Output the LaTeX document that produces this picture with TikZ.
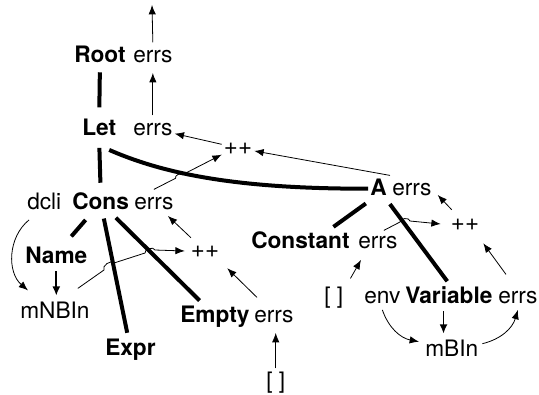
\documentclass[tikz,border=0pt]{standalone}
\usepackage{fontspec}
\setmainfont{TeX Gyre Heros}
\usetikzlibrary{arrows,arrows.meta,calc,positioning}
\tikzset{
        txt/.style = {anchor=base west, inner sep=1.5pt,
            text height=13pt, text depth=3.5pt,
            font=\fontsize{17}{20}\selectfont},
        kind/.style = {txt, font=\fontsize{17}{20}\selectfont\bfseries},
        op/.style = {txt, anchor=center, font=\fontsize{18}{20}\selectfont},
        tree/.style = {draw, line width=3pt},
        flow/.style = {draw, -{Latex[length=7pt,width=5.5pt]}, line width=0.6pt},
        down/.style = {draw, -{Latex[length=7pt,width=6pt]}, line width=1.4pt, shorten <=1pt, shorten >=2pt},
        hop/.style = {bend right=90},
    }

\begin{document}
\begin{tikzpicture}[x=0.75pt,y=0.75pt,yscale=-1,xscale=1]
\useasboundingbox (0,0) rectangle (539,394);

% Text Node
\node[kind] (root) at (72,62) {Root};
\node[txt] (rerrs) at (131,62) {errs};
\node[kind] (let) at (80,135) {Let};
\node[txt] (lerrs) at (131,135) {errs};
\node[op] (pp1) at (238,148) {++};
\node[txt] (dcli) at (25,209) {dcli};
\node[kind] (cons) at (70,209) {Cons};
\node[txt] (cerrs) at (132,209) {errs};
\node[op] (pp2) at (205,251) {++};
\node[kind] (name) at (23,263) {Name};
\node[txt] (mnbin) at (18,318) {mNBIn};
\node[kind] (expr) at (103,355) {Expr};
\node[kind] (empty) at (178,322) {Empty};
\node[txt] (eerrs) at (252,322) {errs};
\node[txt] (nil1) at (264,388) {[ ]};
\node[kind] (a) at (368,195) {A};
\node[txt] (aerrs) at (390,195) {errs};
\node[kind] (const) at (249,248) {Constant};
\node[txt] (conerrs) at (356,248) {errs};
\node[op] (pp3) at (465,224) {++};
\node[txt] (nil2) at (322,303) {[ ]};
\node[txt] (env) at (362,303) {env};
\node[kind] (var) at (403,303) {Variable};
\node[txt] (verrs) at (496,303) {errs};
\node[txt] (mbin) at (423,356) {mBIn};
\coordinate (top) at (152,5);

%Tree Lines
\draw[tree, shorten <=2.5pt, shorten >=6pt] (root.south) -- (let.north);
\draw[tree, shorten <=4.5pt, shorten >=5pt] (let.south) -- (cons.north);
\draw[tree] ($(let.south)+(10,8)$) .. controls (160,172) and (230,189) .. (a.west);
\draw[tree] ($(cons.south)+(-15,4)$) -- ($(name.north)+(15,-7)$);
\draw[tree, shorten <=2pt, shorten >=2pt] (cons) -- (expr);
\draw[tree, shorten <=2pt, shorten >=2pt] (cons) -- (empty);
\draw[tree, shorten <=2pt, shorten >=2pt] (a.south west) -- ($(const.north)!.6!(const.north east)$);
\draw[tree, shorten <=2pt, shorten >=2pt] (a) -- (var.north);

%Flow Arrows
\draw[flow] (rerrs.north) -- (top);
\draw[flow, shorten >=3pt] (lerrs) -- (rerrs);
\draw[flow] (pp1) -- (lerrs);
\draw[flow] (aerrs.north west) -- (pp1);
\coordinate (pp1in) at ($(pp1.west)!.5!(pp1.south west)$);
\draw[flow] (cerrs.north) -- ($(cerrs.north)!.32!(pp1in)$) to[hop] ($(cerrs.north)!.42!(pp1in)$) -- (pp1in);
\draw[flow] (pp2) -- (cerrs);
\draw[flow] ($(mnbin.north east)+(-14,-10)$) -- (104,270) to[hop] (114,263) -- (145,253) to[hop] (155,250) -- ($(pp2.west)+(-4,0)$);
\draw[flow] ($(eerrs.north west)+(5,-5)$) -- ($(pp2.south east)+(6,4)$);
\draw[flow, shorten >=3pt] (nil1.north) -- (nil1.north |- eerrs.south);
\draw[flow] ($(nil2.north east)+(5,-5)$) -- ($(conerrs.south west)+(5,5)$);
\draw[flow] ($(conerrs.north)+(6,2)$) -- (400,222) to[hop] (410,221) -- ($(pp3.west)+(-8,0)$);
\draw[flow] ($(pp3.north west)+(3,-1)$) -- ($(aerrs.south east)+(4,-7)$);
\draw[flow] ($(verrs.north west)+(10,-9)$) -- ($(pp3.south east)+(2,6)$);
\draw[down] ([xshift=-4pt]var.south) -- ([xshift=-4pt]var.south |- mbin.north);
\draw[down] (name.south) -- (name.south |- mnbin.north);
\draw[flow] (env.south) to[bend left=30] ($(mbin.west)+(-4,-8)$);
\draw[flow] ($(mbin.east)+(2,-6)$) to[bend left=30] (verrs.south);
\draw[flow] ($(dcli.south west)+(4,4)$) to[bend left=50] ($(mnbin.north west)+(10,-8)$);

\end{tikzpicture}
\end{document}
